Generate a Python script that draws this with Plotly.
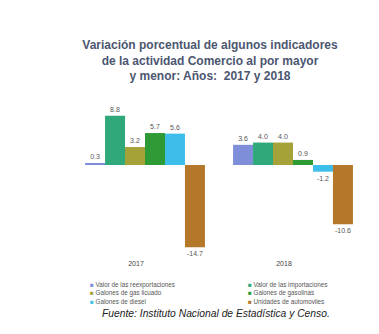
import plotly.graph_objects as go

years = ["2017", "2018"]
series_names = [
    "Valor de las reexportaciones",
    "Valor de las importaciones",
    "Galones de gas licuado",
    "Galones de gasolinas",
    "Galones de diesel",
    "Unidades de automoviles",
]
values_2017 = [0.3, 8.8, 3.2, 5.7, 5.6, -14.7]
values_2018 = [3.6, 4.0, 4.0, 0.9, -1.2, -10.6]
colors = ["#7f8ed8", "#2fa97a", "#a6a23a", "#2e9a35", "#3dbde9", "#b5772a"]

W, H = 379, 334
ML, MR, MT, MB = 71, 12, 100, 79
plot_h = H - MT - MB
plot_w = W - ML - MR

def py(y_px):
    return (H - MB - y_px) / plot_h

def px(x_px):
    return (x_px - ML) / plot_w

fig = go.Figure()
for i, name in enumerate(series_names):
    vals = [values_2017[i], values_2018[i]]
    fig.add_trace(go.Bar(
        x=years, y=vals, name=name,
        marker=dict(color=colors[i], line=dict(width=0)),
        text=[f"{v:.1f}" for v in vals], textposition="outside",
        textfont=dict(size=7, color="#555555", family="Liberation Sans"),
        cliponaxis=False, showlegend=False,
    ))

annotations = []
# legend as text rows (two columns)
col_x = [88, 246]
row_y = [285, 293, 301]
for i, name in enumerate(series_names):
    c, r = i % 2, i // 2
    annotations.append(dict(
        text=f"<span style='color:{colors[i]}'>■</span> {name}",
        xref="paper", yref="paper", x=px(col_x[c]), y=py(row_y[r]),
        xanchor="left", yanchor="middle", showarrow=False,
        font=dict(size=6.3, color="#555555", family="Liberation Sans"),
    ))
annotations.append(dict(
    text="<i>Fuente: Instituto Nacional de Estadística y Censo.</i>",
    xref="paper", yref="paper", x=px(216), y=py(313), xanchor="center", yanchor="middle",
    showarrow=False, font=dict(size=10.3, color="#222222", family="Liberation Sans"),
))

fig.update_layout(
    width=W, height=H,
    margin=dict(l=ML, r=MR, t=MT, b=MB),
    paper_bgcolor="white", plot_bgcolor="white",
    barmode="group", bargap=0.19, bargroupgap=0,
    title=dict(
        text="<b>Variación porcentual de algunos indicadores<br>de la actividad Comercio al por mayor<br>y menor: Años:  2017 y 2018</b>",
        x=210 / W, xanchor="center", y=1 - 49 / H, yanchor="top",
        font=dict(size=12, color="#4c5670", family="Liberation Sans"),
    ),
    xaxis=dict(showgrid=False, showline=False, ticks="", zeroline=False,
               ticklabelshift=-9, ticklabelstandoff=3,
               tickfont=dict(size=7, color="#444444", family="Liberation Sans")),
    yaxis=dict(visible=False, range=[-16.07, 11.6], zeroline=False, showgrid=False),
    showlegend=False,
    annotations=annotations,
)
fig.write_html("out.html")
